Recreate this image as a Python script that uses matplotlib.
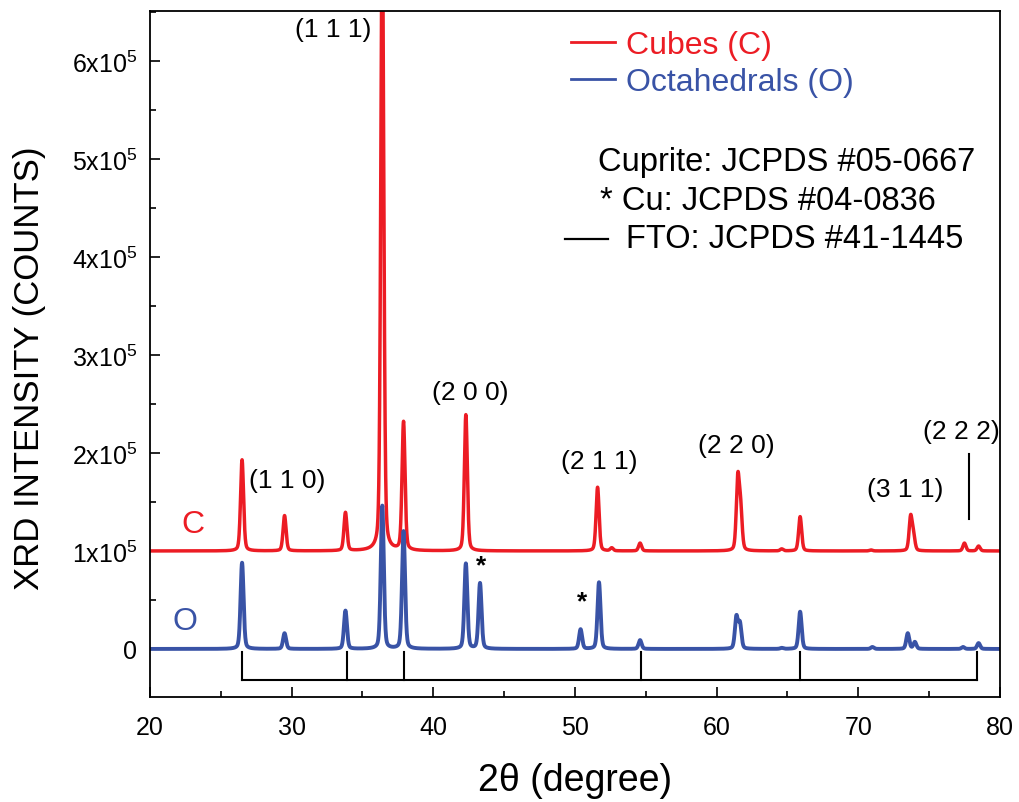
import numpy as np
import matplotlib.pyplot as plt
from matplotlib.ticker import MultipleLocator, FixedLocator, FixedFormatter

plt.rcParams['font.family'] = ['Liberation Sans', 'DejaVu Sans']
plt.rcParams['mathtext.fontset'] = 'custom'
plt.rcParams['mathtext.rm'] = 'Liberation Sans'
plt.rcParams['mathtext.it'] = 'Liberation Sans:italic'

# peak positions (2theta) and heights above baseline (counts)
cube_pos = [26.5, 29.5, 33.8, 36.4, 37.9, 42.3, 51.6, 52.6, 54.6,
            61.5, 61.7, 64.6, 65.9, 70.9, 73.7, 73.9, 77.5, 78.5]
cube_h = [0.93e5, 0.36e5, 0.39e5, 6.4e5, 1.31e5, 1.39e5, 0.65e5, 0.03e5, 0.08e5,
          0.72e5, 0.40e5, 0.02e5, 0.35e5, 0.01e5, 0.34e5, 0.15e5, 0.08e5, 0.05e5]
cube_base = 1.0e5

oct_pos = [26.5, 29.5, 33.8, 36.4, 37.9, 42.3, 43.3, 50.4, 51.7, 54.6,
           61.4, 61.65, 64.6, 65.9, 71.0, 73.5, 74.0, 77.4, 78.5]
oct_h = [0.88e5, 0.16e5, 0.39e5, 1.46e5, 1.20e5, 0.87e5, 0.67e5, 0.20e5, 0.68e5, 0.09e5,
         0.32e5, 0.25e5, 0.01e5, 0.38e5, 0.02e5, 0.16e5, 0.07e5, 0.02e5, 0.06e5]
oct_base = 0.0

# FTO reference lines
fto_pos = [26.5, 33.9, 37.9, 54.7, 65.9, 78.4]

# y tick labels
ytick_vals = [0, 1e5, 2e5, 3e5, 4e5, 5e5, 6e5]
ytick_labels = ['0'] + [r'%dx10$^{5}$' % i for i in range(1, 7)]


def pattern(x, pos, heights, base, fwhm=0.25, eta=0.3):
    y = np.full_like(x, base)
    for c, h in zip(pos, heights):
        g = np.exp(-4 * np.log(2) * ((x - c) / fwhm) ** 2)
        l = 1.0 / (1 + 4 * ((x - c) / fwhm) ** 2)
        y += h * (eta * l + (1 - eta) * g)
    return y


tt = np.linspace(20, 80, 6001)
red = '#ec1c24'
blue = '#3953a6'

fig = plt.figure(figsize=(10.19, 8.03), dpi=100)
ax = fig.add_axes([0.1472, 0.1308, 0.834, 0.8542])

ax.plot(tt, pattern(tt, cube_pos, cube_h, cube_base), color=red, lw=2.5, label='Cubes (C)')
ax.plot(tt, pattern(tt, oct_pos, oct_h, oct_base), color=blue, lw=2.8, label='Octahedrals (O)')

# FTO bracket
ax.plot([fto_pos[0], fto_pos[-1]], [-0.32e5, -0.32e5], color='black', lw=1.5)
for p in fto_pos:
    ax.plot([p, p], [-0.32e5, -0.03e5], color='black', lw=1.5)
# (2 2 2) marker
ax.plot([77.8, 77.8], [1.33e5, 1.99e5], color='black', lw=1.5)

ax.set_xlim(20, 80)
ax.set_ylim(-0.49e5, 6.51e5)
ax.xaxis.set_major_locator(MultipleLocator(10))
ax.xaxis.set_minor_locator(MultipleLocator(5))
ax.yaxis.set_major_locator(FixedLocator(ytick_vals))
ax.yaxis.set_major_formatter(FixedFormatter(ytick_labels))
ax.yaxis.set_minor_locator(MultipleLocator(0.5e5))
ax.tick_params(which='both', direction='in', top=False, right=False, width=1.2)
ax.tick_params(which='major', length=7, labelsize=18)
ax.tick_params(axis='x', which='major', pad=13)
ax.tick_params(axis='y', which='major', pad=9)
ax.tick_params(which='minor', length=4)
for s in ax.spines.values():
    s.set_linewidth(1.3)

ax.set_xlabel('2\u03b8 (degree)', fontsize=27, va='top')
ax.xaxis.set_label_coords(0.5, -0.095)
ax.set_ylabel('XRD INTENSITY (COUNTS)', fontsize=25)
ax.yaxis.set_label_coords(-0.122, 0.48)

# peak labels
fs = 19
ax.text(32.9, 6.33e5, '(1 1 1)', fontsize=fs, ha='center', va='center')
ax.text(29.7, 1.72e5, '(1 1 0)', fontsize=fs, ha='center', va='center')
ax.text(42.6, 2.62e5, '(2 0 0)', fontsize=fs, ha='center', va='center')
ax.text(51.7, 1.92e5, '(2 1 1)', fontsize=fs, ha='center', va='center')
ax.text(61.4, 2.08e5, '(2 2 0)', fontsize=fs, ha='center', va='center')
ax.text(73.3, 1.63e5, '(3 1 1)', fontsize=fs, ha='center', va='center')
ax.text(77.3, 2.22e5, '(2 2 2)', fontsize=fs, ha='center', va='center')
ax.text(23.0, 1.28e5, 'C', fontsize=23, color=red, ha='center', va='center')
ax.text(22.5, 0.29e5, 'O', fontsize=23, color=blue, ha='center', va='center')
ax.text(43.4, 0.85e5, '*', fontsize=19, ha='center', va='center', fontweight='bold')
ax.text(50.5, 0.49e5, '*', fontsize=19, ha='center', va='center', fontweight='bold')

# legend
leg = ax.legend(loc='upper left', bbox_to_anchor=(0.462, 1.014), frameon=False, fontsize=23,
                handlelength=1.35, handletextpad=0.35, labelspacing=0.22)
for txt, c in zip(leg.get_texts(), [red, blue]):
    txt.set_color(c)
for h in leg.get_lines():
    h.set_linewidth(2.0)

ax.text(0.527, 0.781, 'Cuprite: JCPDS #05-0667', transform=ax.transAxes, fontsize=23.5, va='center')
ax.text(0.529, 0.7245, '* Cu: JCPDS #04-0836', transform=ax.transAxes, fontsize=23.5, va='center')
ax.plot([0.488, 0.539], [0.668, 0.668], transform=ax.transAxes, color='black', lw=1.6)
ax.text(0.56, 0.668, 'FTO: JCPDS #41-1445', transform=ax.transAxes, fontsize=23.5, va='center')

fig.savefig('out.png', dpi=100)
